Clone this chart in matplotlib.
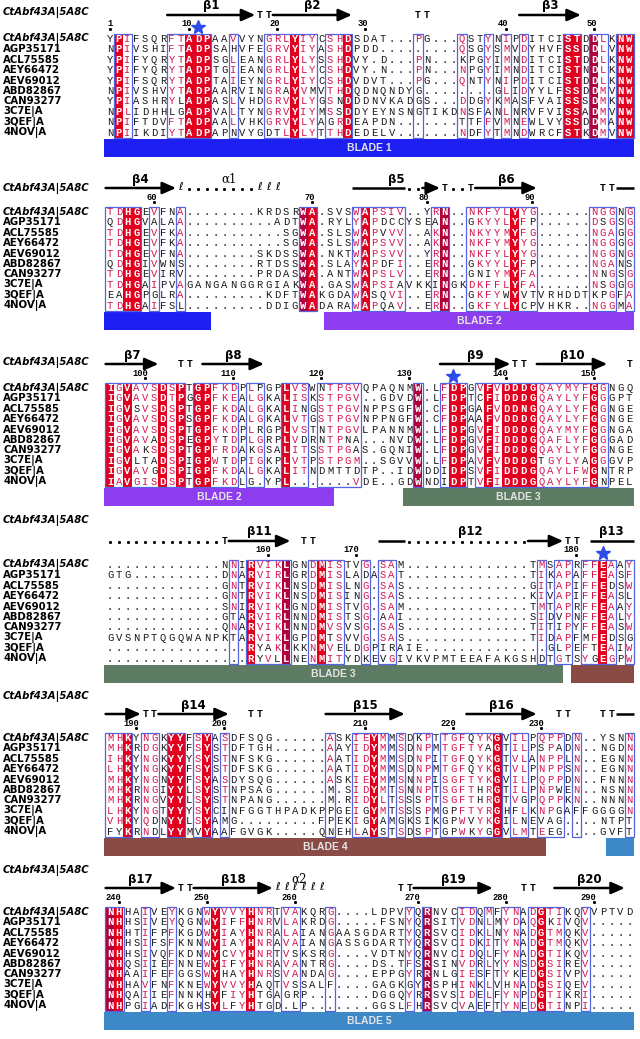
import matplotlib
matplotlib.use("Agg")
import matplotlib.pyplot as plt
from matplotlib.patches import Rectangle, FancyArrowPatch
from collections import Counter

# ---------------------------------------------------------------------------
# Alignment data
# ---------------------------------------------------------------------------
SEQ_NAMES = ["CtAbf43A|5A8C", "AGP35171", "ACL75585", "AEY66472", "AEV69012",
             "ABD82867", "CAN93277", "3C7E|A", "3QEF|A", "4NOV|A"]

BLOCK1 = [
    "YPIFSQRFTADPAAVVYNGRLYIYCSHDSDAT...PG...QSTYNIPDITCISTDDLKNW",
    "NPIVSHIFTADPSAHVFEGRVYIYASHDPDD.........QSGYSMVDYHVFSSDDLVNW",
    "YPIFYQRYTADPSGLEANGRLYLYSSHDVY.D...PN...KPGYIMNDITCISTDDLKNW",
    "YPIFYQRYTADPTGIEANGRLYLYCSHDVY.N...PN...NPGYIMNDITCISTNDLKNW",
    "YPIFSQRYTADPTAIEYNGRLYIYCSHDVDVT...PG...QNTYNIPDITCISTDDLKNW",
    "NPIVSHVYTADPAARVINGRAYVMVTHDQDNQNDYG........GLIDYYLFSSDDMVNW",
    "YPIASHRYLADPASLVHDGRVYLYGSNDDDNVKADGS...DDGYKMASFVAISSSDMKNW",
    "NPLIDHHLGADPVALTYNGRVYIYMSSDDYEYNSNGTIKDNSFANLNRVFVISSADMVNW",
    "NPIFTDVFTADPAALVHKGRVYLYAGRDEAPDN.......TTFFVMNEWLVYSSDDMANW",
    "NPIIKDIYTADPAPNVYGDTLYLYTTHDEDELV.......NDFYTMNDWRCFSTKDMVNW",
]
BLOCK2 = [
    "TDHGEVFNA........KRDSRWA.SVSWAPSIV..YRN..NKFYLYYG......NGGNG",
    "QDHGVALAA..........ADTWA.RYLYAPDCCYSEAN..GKYYLYFP......DSGSG",
    "TDHGEVFKA...........SGWA.SLSWAPVVV..AKN..NKYYMYFG......NGAGG",
    "TDHGEVFKA...........SGWA.SLSWAPSVV..AKN..NKFYMYYG......NGGGG",
    "TDHGEVFNA........SKDSSWA.NKTWAPSVV..YRN..NKFYLYYG......NGGNG",
    "QDHGIVWNS........RTDSSWA.SLAYAPDFI..ERN..GKYYLYFP......NGANS",
    "TDHGEVIRV........PRDASWA.ANTWAPSLV..ERN..GNIYMYFA......NNGSG",
    "TDHGAIPVAGANGANGGRGIAKWA.GASWAPSIAVKKINGKDKFFLYFA......NSGGG",
    "EAHGPGLRA.........KDFTWAKGDAWASQVI..ERN..GKFYWYVTVRHDDTKPGFA",
    "TDHGAIFSL.........DDIGWADARAWAPQAV..ERN..GKFYLYCPVHKR..NGGMA",
]
BLOCK3 = [
    "IGVAVSDSPTGPFKDPLPGPLVSWNTPGVQPAQNMW.LFDPGVFVDDDGQAYMYFGGNGQ",
    "IGVAVSDTPGGPFKEALGKALISKSTPGV..GDVDW.LFDPTCFIDDDGQAYLYFGGGPT",
    "IGVSVSDSPTGPFKDALGKALINGSTPGVNPPSGFW.CFDPGAFVDDNGQAYLYFGGNGE",
    "IGVAVSDSPSGPFKDALGKALVTGSTPGVNPPNGFW.CFDPAAFVDDDGQAYLYFGGNGE",
    "IGVAVSDSPTGPFKDPLRGPLVSTNTPGVLPANNMW.LFDPGVFIDDDGQAYMYFGGNGA",
    "IGVAVADSPEGPYTDPLGRPLVDRNTPNA...NVDW.LFDPGVFIDDDGQAFLYFGGGAD",
    "IGVAKSDSPTGPFRDAKGSALITSSTPGAS.GQNIW.LFDPGVFIDDDGQAYLYFGGNGE",
    "IGVLTADSPIGPWTDPIGKPLVTPSTPGM..SGVVW.LFDPAVFVDDDGTGYLYAGGGVP",
    "IGVAVGDSPIGPFKDALGKALITNDMTTDTP..IDWDDIDPSVFIDDDGQAYLFWGNTRP",
    "IAVGISDSPTGPFKDLG.YPL.......VDE..GDWNDIDPTVFIDDDGQAYLYFGNPEL",
]
BLOCK4 = [
    ".............NNIRVIKLGNDMISTVG.SAM..............TMSAPRFFEAAY",
    "GTG..........DNARVIRLGRDMISLADASAT..............TIKAPAFFEASF",
    ".............GNTRVIKLNSDMISLNG.SAS..............GITAPIFFEDSW",
    ".............GNTRVIKLNSDMISING.SAS..............KIVAPIFFEASL",
    ".............SNIRVIKLGNDMISTVG.SAM..............TMTAPRFFEAAY",
    ".............GTARVIRLNNDMISTSG.AAI..............SIDVPNFFEALY",
    ".............QNARVIKLNNDMVSVSG.SAS..............TITIPYFFEASW",
    "GVSNPTQGQWANPKTARVIKLGPDMTSVVG.SAS..............TIDAPFMFEDSG",
    "................RYAKLKKNMVELDGPIRAIE..............GLPEFTEAIW",
    "................RYVLLNENMITYDKEVGIVKVPMTEEAFAKGSHDTGTSYGEGPW",
]
BLOCK5 = [
    "MHKYNGKYYFSYASDFSQG......ASKIEYMMSDKPTTGFQYKGVILPQPPDN..YSNN",
    "MHKRDGKYYFSYSTDFTGH......AAYIDYMMSDNPMTGFTYAGTILPSPADN..NGDN",
    "IHKYNGKYYYSYSTNFSKG......AATIDYMMSDNPITGFQYKGTVLANPPLN..EGNN",
    "LHKYNGKYYFSYSTDFSKG......AATIDYMMSDNPMTGFQYKGTVLPNPPSN..EGNN",
    "MHKYNGNYYFSYASDYSQG......ASKIEYMMSNNPISGFTYKGVILPQPPDN..FNNN",
    "MHKRNGIYYLSYSTNPSAG......M.SIDYMTSNNPTSGFTHRGTILPNPWEN..NSNN",
    "MHKRNGVYYLSYSTNPANG......M.RIDYLTSSSPTSGFTHRGTVGPQPPKN..NNNN",
    "LHKYNGTYYYSYCINFGGTHPADKPPGEIGYMTSSSPMGPFTYRGHFLKNPGAFFGGGGN",
    "VHKYQDNYYLSYAMG.........FPEKIGYAMGKSIKGPWVYKGILNEVAG....NTPT",
    "FYKRNDLYYMVYAAFGVGK.....QNEHLAYSTSDSPTGPWKYGGVLMTEEG....GVFT",
]
BLOCK6 = [
    "NHHAIVEYKGNWYVVYHNRTVAKQRG....LDPVYQRNVCIDQMFYNADGTIKQVVPTVD",
    "NHHSIVEYQGNWYIFFHNRVLAKRDG.....FSNYQRSITVDNLMYDAQGKIVQV.....",
    "NHHTIFPFKGDWYIAYHNRALAIANGAASGDARTYQRSVCIDKLNYNADGTMQKV.....",
    "NHHSIFSFKNNWYIAYHNRAVAIANGASSGDARTYQRSVCIDKITYNADGTMQKV.....",
    "NHHSIVQFKDNWYCVYHNRTVSKSRG....VDTNYQRNVCIDQLFYNADGTIKQV.....",
    "NHQSIIEFNNEWYIFYHNRAVANTRG....DS.TFSRSINVDRLYYNSDGSIREV.....",
    "NHAAIFEFGGSWYHAYHNRSVANDAG....EPPGYRRNLGIESFTYKEDGSIVPV.....",
    "NHHAVFNFKNEWYVVYHAQTVSSALF....GAGKGYRSPHINKLVHNADGSIQEV.....",
    "NHQAIIEFNNKHYFIYHTGAGRP.......DGGQYRRSVSIDELFYNPDGTIKRI.....",
    "NHPGIADFKGHSYLFYHTGD.LP.......GGSLFHRSVCVAEFTYNEDGTINPI.....",
]
BLOCKS = [BLOCK1, BLOCK2, BLOCK3, BLOCK4, BLOCK5, BLOCK6]
FIRST_RES = 1

# strictly conserved columns (white on red), per block
RED_COLS = [
    [2, 10, 11, 12, 22, 28, 53, 54, 56, 59, 60],
    [3, 4, 23, 24, 30, 39, 47],
    [1, 3, 7, 9, 11, 12, 21, 36, 40, 41, 44, 46, 47, 48, 49, 56],
    [17, 21, 25, 57],
    [3, 8, 9, 12, 31, 45],
    [1, 2, 13, 17, 37, 50],
]
DARK_COLS = [[56], [23, 39], [36], [21], [], [1, 37]]

# similarity frames (first col, last col), per block
BOX_RANGES = [
    [(2, 3), (8, 12), (15, 15), (19, 24), (26, 28), (36, 36), (41, 41), (44, 44),
     (46, 46), (48, 48), (53, 54), (56, 57), (59, 60)],
    [(1, 4), (6, 6), (9, 9), (23, 24), (29, 29), (30, 34), (38, 39), (42, 49),
     (56, 58), (60, 60)],
    [(1, 9), (11, 15), (17, 18), (21, 23), (25, 29), (36, 36), (39, 41), (43, 57)],
    [(15, 15), (17, 21), (24, 27), (30, 30), (32, 33), (50, 50), (52, 53),
     (55, 58), (60, 60)],
    [(1, 3), (5, 6), (8, 9), (11, 12), (14, 14), (26, 26), (29, 32), (34, 34),
     (36, 37), (39, 45), (47, 48), (50, 52), (54, 54), (60, 60)],
    [(1, 2), (5, 5), (8, 8), (12, 19), (21, 22), (26, 26), (35, 35), (37, 37),
     (41, 42), (44, 44), (46, 47), (49, 52), (55, 55)],
]

STAR_COLS = [[11], [], [40], [57], [], []]

# secondary structure of CtAbf43A (5A8C)
SS_ELEMENTS = [
    [("arrow", 8, 17), ("T", 18, 19), ("arrow", 20, 28), ("T", 36, 37),
     ("arrow", 48, 54)],
    [("arrow", 1, 8), ("coil", 9, 9), ("dots", 10, 17), ("coil", 18, 20),
     ("line", 29, 34), ("dots", 35, 36), ("arrow", 37, 38), ("T", 39, 39),
     ("dots", 40, 41), ("T", 42, 42), ("arrow", 43, 49), ("T", 57, 58),
     ("line", 59, 60)],
    [("arrow", 1, 6), ("T", 9, 10), ("arrow", 12, 18), ("arrow", 39, 46),
     ("T", 47, 48), ("arrow", 50, 57), ("T", 60, 60)],
    [("dots", 1, 13), ("T", 14, 14), ("arrow", 15, 21), ("T", 23, 24),
     ("line", 32, 34), ("dots", 35, 48), ("arrow", 49, 52), ("T", 53, 54),
     ("line", 56, 60)],
    [("arrow", 1, 4), ("T", 5, 6), ("arrow", 7, 14), ("T", 17, 18),
     ("arrow", 26, 34), ("arrow", 42, 49), ("T", 52, 53), ("T", 57, 58),
     ("line", 59, 60)],
    [("arrow", 1, 8), ("T", 9, 10), ("arrow", 11, 19), ("coil", 20, 25),
     ("T", 34, 35), ("arrow", 36, 44), ("T", 48, 49), ("arrow", 52, 59)],
]
SS_LABELS = [
    [("β1", 8, 17), ("β2", 20, 28), ("β3", 48, 54)],
    [("β4", 1, 8), ("α1", 9, 20), ("β5", 29, 38), ("β6", 43, 49)],
    [("β7", 1, 6), ("β8", 12, 18), ("β9", 39, 46), ("β10", 50, 57)],
    [("β11", 15, 21), ("β12", 32, 52), ("β13", 56, 60)],
    [("β14", 7, 14), ("β15", 26, 34), ("β16", 42, 49)],
    [("β17", 1, 8), ("β18", 11, 19), ("α2", 20, 25), ("β19", 36, 44),
     ("β20", 52, 59)],
]

BLADE_COLORS = {1: "#1d1ff2", 2: "#8e3cef", 3: "#5d7c63", 4: "#884b45",
                5: "#3d89c8"}
# (block index, first col, last col, blade number, show label)
BLADES = [
    (0, 1, 60, 1, True),
    (1, 1, 12, 1, False), (1, 26, 60, 2, True),
    (2, 1, 26, 2, True), (2, 35, 60, 3, True),
    (3, 1, 52, 3, True), (3, 54, 60, 4, False),
    (4, 1, 50, 4, True), (4, 58, 60, 5, False),
    (5, 1, 60, 5, True),
]

# ---------------------------------------------------------------------------
# Layout (pixels)
# ---------------------------------------------------------------------------
X0 = 105.6
COL_W = 8.8
ROW_H = 10.4
ROW1_Y = [39, 212, 388, 565, 738, 912]
HEADER_DY = [-26, -23, -26, -44, -41, -41]

RED = "#e2001e"
DARK_RED = "#b2003a"
PINK = "#d3174f"
FRAME = "#5264de"
SEQ_FONT = "Liberation Mono"

GROUPS = ["ILVM", "FYW", "ST", "AG", "DENQ", "KRH", "P", "C"]


def grp(a):
    for g in GROUPS:
        if a in g:
            return g
    return a


def left(c):
    return X0 + (c - 1) * COL_W


def cx(c):
    return X0 + (c - 0.5) * COL_W


for blk in BLOCKS:
    assert len(blk) == 10 and all(len(r) == 60 for r in blk), [len(r) for r in blk]

fig = plt.figure(figsize=(6.4, 10.39), dpi=100)
ax = fig.add_axes([0, 0, 1, 1])
ax.set_xlim(0, 640)
ax.set_ylim(1039, 0)
ax.axis("off")

res = FIRST_RES - 1
for b, blk in enumerate(BLOCKS):
    y1 = ROW1_Y[b]
    ys = [y1 + i * ROW_H for i in range(len(blk))]
    top = ys[0] - ROW_H / 2
    bot = ys[-1] + ROW_H / 2

    # ---- conserved columns / frames ---------------------------------------
    red = set(RED_COLS[b])
    for c in red:
        col = DARK_RED if c in DARK_COLS[b] else RED
        ax.add_patch(Rectangle((left(c), top), COL_W, bot - top, facecolor=col,
                               edgecolor="none", zorder=1))
    boxed = set()
    for c0, c1 in BOX_RANGES[b]:
        boxed.update(range(c0, c1 + 1))
        ax.add_patch(Rectangle((left(c0) - 0.3, top), (c1 - c0 + 1) * COL_W + 0.6,
                               bot - top, facecolor="none", edgecolor=FRAME,
                               lw=0.9, zorder=3))

    # ---- residues ----------------------------------------------------------
    for c in range(1, 61):
        column = [r[c - 1] for r in blk]
        major = None
        if c in boxed and c not in red:
            cnt = Counter(grp(a) for a in column if a != ".")
            major = cnt.most_common(1)[0][0] if cnt else None
        for y, a in zip(ys, column):
            if c in red:
                color, weight = "white", "bold"
            elif major is not None and a != "." and grp(a) == major:
                color, weight = PINK, "normal"
            else:
                color, weight = "#1a1a1a", "normal"
            ax.text(cx(c), y, a, ha="center", va="center", fontsize=7.6,
                    family=SEQ_FONT, color=color, fontweight=weight, zorder=4)

    # ---- sequence names ----------------------------------------------------
    for i, (name, y) in enumerate(zip(SEQ_NAMES, ys)):
        ax.text(3, y, name, ha="left", va="center", fontsize=7.3,
                fontweight="bold", fontstyle="italic" if i == 0 else "normal",
                color="black")
    ax.text(3, y1 + HEADER_DY[b], SEQ_NAMES[0], ha="left", va="center",
            fontsize=7.3, fontweight="bold", fontstyle="italic")

    # ---- residue numbering -------------------------------------------------
    y_num = y1 - 15
    for c in range(1, 61):
        if blk[0][c - 1] == ".":
            continue
        res += 1
        if res == 1 or res % 10 == 0:
            ax.text(cx(c) + 2.6, y_num, str(res), ha="right", va="center",
                    fontsize=6.3, family=SEQ_FONT, fontweight="bold")
            ax.plot(cx(c), y_num + 5, marker="s", ms=1.1, color="black")

    for c in STAR_COLS[b]:
        ax.plot(cx(c), y1 - 12, marker="*", ms=10, color="#2d4be8", zorder=5,
                markeredgecolor="#2d4be8")

    # ---- secondary structure -----------------------------------------------
    y_ss = y1 - 24
    for kind, c0, c1 in SS_ELEMENTS[b]:
        if kind == "arrow":
            ax.add_patch(FancyArrowPatch((left(c0), y_ss), (left(c1 + 1), y_ss),
                                         arrowstyle="-|>,head_length=0.9,head_width=0.4",
                                         mutation_scale=9, lw=1.8, color="black",
                                         shrinkA=0, shrinkB=0))
        elif kind == "line":
            ax.plot([left(c0), left(c1 + 1)], [y_ss, y_ss], color="black",
                    lw=1.8, solid_capstyle="butt")
        elif kind == "T":
            for c in range(c0, c1 + 1):
                ax.text(cx(c), y_ss, "T", ha="center", va="center", fontsize=7,
                        family=SEQ_FONT, fontweight="bold")
        elif kind == "dots":
            xs = [cx(c) for c in range(c0, c1 + 1)]
            ax.plot(xs, [y_ss + 1] * len(xs), linestyle="none", marker="s",
                    ms=1.1, color="black")
        elif kind == "coil":
            for c in range(c0, c1 + 1):
                ax.text(cx(c), y_ss - 1, "ℓ", ha="center", va="center",
                        fontsize=8, family=["DejaVu Sans"])
    for lab, c0, c1 in SS_LABELS[b]:
        xm = (left(c0) + left(c1 + 1)) / 2
        if lab.startswith("α"):
            ax.text(xm, y1 - 33, lab, ha="center", va="center", fontsize=8.5,
                    family="DejaVu Serif")
        else:
            ax.text(xm, y1 - 33, lab, ha="center", va="center", fontsize=8.5,
                    fontweight="bold")

# ---- blade bars ------------------------------------------------------------
for b, c0, c1, blade, show in BLADES:
    y_top = ROW1_Y[b] + 100
    x_l = left(c0) - 1.5
    x_r = left(c1 + 1)
    ax.add_patch(Rectangle((x_l, y_top), x_r - x_l, 18,
                           facecolor=BLADE_COLORS[blade], edgecolor="none"))
    if show:
        ax.text((x_l + x_r) / 2, y_top + 9, f"BLADE {blade}", ha="center",
                va="center", fontsize=7.5, fontweight="bold",
                family="Liberation Sans", color="#e4e4e4")

fig.savefig("out.png", dpi=100)
